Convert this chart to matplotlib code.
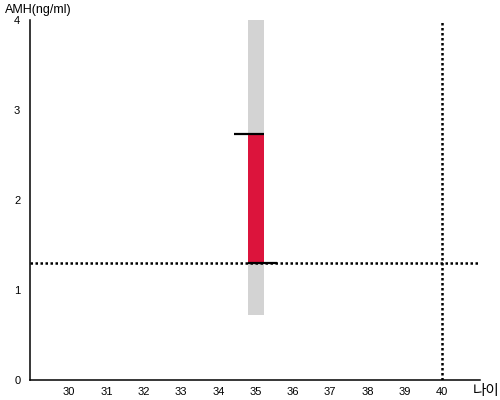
import matplotlib.pyplot as plt

plt.rcParams['font.family'] = ['Liberation Sans', 'Noto Sans CJK KR', 'DejaVu Sans']

# data
age = 35
amh_value = 2.73
amh_ref = 1.3
range_low = 0.72
range_high = 4.0
ref_age = 40
x_ticks = list(range(30, 41))
y_ticks = [0, 1, 2, 3, 4]

fig = plt.figure(figsize=(5, 4), dpi=100)
ax = fig.add_axes([0.06, 0.05, 0.90, 0.90])
ax.set_xlim(28.95, 41.02)
ax.set_ylim(0, 4)

bar_w = 0.43
# gray normal range
ax.bar(age, range_high - range_low, bottom=range_low, width=bar_w,
       color='lightgray', zorder=1)
# red measured segment
ax.bar(age, amh_value - amh_ref, bottom=amh_ref, width=bar_w,
       color='crimson', zorder=2)

# reference dotted lines
ax.axhline(amh_ref, color='black', linestyle=(0, (1, 1)), linewidth=1.8, zorder=3)
ax.axvline(ref_age, color='black', linestyle=(0, (1, 1)), linewidth=1.8, zorder=3)

# short solid markers
ax.plot([age - bar_w / 2 - 0.35, age + bar_w / 2], [amh_value, amh_value],
        color='black', linewidth=1.6, zorder=4, solid_capstyle='butt')
ax.plot([age - bar_w / 2, age + bar_w / 2 + 0.35], [amh_ref, amh_ref],
        color='black', linewidth=1.6, zorder=4, solid_capstyle='butt')

ax.set_xticks(x_ticks)
ax.set_yticks(y_ticks)
ax.tick_params(length=0, labelsize=8, pad=5)
ax.tick_params(axis='y', pad=7)
for s in ['top', 'right']:
    ax.spines[s].set_visible(False)
for s in ['left', 'bottom']:
    ax.spines[s].set_linewidth(1.1)

fig.text(0.01, 0.975, 'AMH(ng/ml)', fontsize=9, va='center', ha='left')
fig.text(0.945, 0.022, '나이', fontsize=10.5, va='center', ha='left')

fig.savefig('out.png', dpi=100)
